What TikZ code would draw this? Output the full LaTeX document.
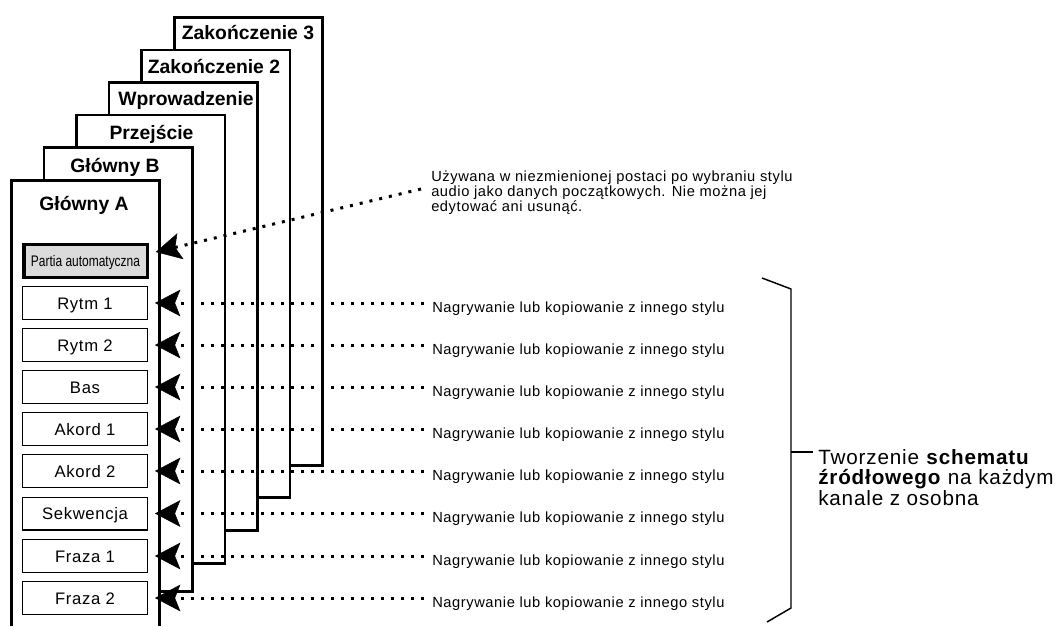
\documentclass[tikz,border=0pt]{standalone}
\usepackage{fontspec}
\setmainfont{Liberation Sans}
\newfontfamily\spacedfont[LetterSpace=4]{Liberation Sans}
\newfontfamily\narrowfont[FakeStretch=0.78]{Liberation Sans}
\usetikzlibrary{arrows.meta}
\tikzset{
  font=\spacedfont,
  % Set arrowhead
  >={Stealth[length=19pt, width=20pt, inset=4pt, line width=0.4pt]},
  % page of the style (stacked)
  panel/.style={draw, line width=2pt, fill=white},
  % page title
  ptitle/.style={inner sep=0pt, text height=10pt, text depth=0pt,
    font=\fontsize{14.5}{16}\selectfont\bfseries},
  % channel box
  chan/.style={draw, line width=1.1pt, fill=white, minimum width=93.4pt,
    minimum height=24.4pt, inner sep=0pt, text height=9pt, text depth=0pt,
    font=\spacedfont\fontsize{12.5}{14}\selectfont},
  % preset audio channel
  autochan/.style={chan, line width=2.6pt, fill=black!14,
    minimum width=92.6pt, text height=8.2pt,
    font=\narrowfont\fontsize{11.5}{13}\selectfont},
  % side note
  note/.style={anchor=west, inner sep=0pt, text height=7.9pt, text depth=0pt,
    font=\spacedfont\fontsize{11}{11.25}\selectfont},
  % dotted arrow into a channel
  feed/.style={->, line width=2.25pt, dash pattern=on 2.25pt off 5.25pt,
    shorten >=5.25pt, shorten <=6pt},
  % bracket
  brace/.style={line width=1.1pt},
}
\begin{document}
\begin{tikzpicture}[x=0.75pt, y=-0.75pt]
  \useasboundingbox (0,0) rectangle (1064,626);

  % stacked pages, back to front
  \draw[panel] (174.3,17.3) rectangle (322.7,465.7);
  \draw[panel] (141.7,49.9) rectangle (290.1,497.7);
  \draw[panel] (109.1,82.5) rectangle (257.5,530.7);
  \draw[panel] (76.5,115.1) rectangle (224.9,563.7);
  \draw[panel] (43.9,147.7) rectangle (192.3,591.7);
  \draw[panel] (11.3,626) -- (11.3,180.3) -- (159.7,180.3) -- (159.7,626);

  \node[ptitle] (tz3) at (248,33) {Zakończenie 3};
  \node[ptitle] (tz2) at (214,66.7) {Zakończenie 2};
  \node[ptitle] (twp) at (186,99) {Wprowadzenie};
  \node[ptitle] (tpr) at (151.5,132.5) {Przejście};
  \node[ptitle] (tgb) at (115,166) {Główny B};
  \node[ptitle] (tga) at (84,204) {Główny A};

  % channels
  \node[autochan] (pa) at (85.5,261) {Partia automatyczna};
  \node[chan] (r1) at (85,303) {Rytm 1};
  \node[chan] (r2) at (85,345) {Rytm 2};
  \node[chan] (bas) at (85,387) {Bas};
  \node[chan] (ak1) at (85,429) {Akord 1};
  \node[chan] (ak2) at (85,471) {Akord 2};
  \node[chan] (sek) at (85,513.5) {Sekwencja};
  \node[chan] (fr1) at (85,556) {Fraza 1};
  \node[chan] (fr2) at (85,598) {Fraza 2};

  % notes
  \node[note, anchor=north west, align=left, text height=, text depth=]
    (opis) at (431,171) {Używana w niezmienionej postaci po wybraniu stylu\\
    audio jako danych początkowych. Nie można jej\\edytować ani usunąć.};
  \node[note] (n1) at (432,307) {Nagrywanie lub kopiowanie z innego stylu};
  \node[note] (n2) at (432,349) {Nagrywanie lub kopiowanie z innego stylu};
  \node[note] (n3) at (432,391) {Nagrywanie lub kopiowanie z innego stylu};
  \node[note] (n4) at (432,433) {Nagrywanie lub kopiowanie z innego stylu};
  \node[note] (n5) at (432,475) {Nagrywanie lub kopiowanie z innego stylu};
  \node[note] (n6) at (432,517.5) {Nagrywanie lub kopiowanie z innego stylu};
  \node[note] (n7) at (432,560) {Nagrywanie lub kopiowanie z innego stylu};
  \node[note] (n8) at (432,602) {Nagrywanie lub kopiowanie z innego stylu};

  % arrows
  \coordinate (ua) at (421,189);
  \draw[feed, shorten <=0pt] (ua) -- ([yshift=5.5pt]pa.east);
  \draw[feed] (n1.west |- r1) -- (r1.east);
  \draw[feed] (n2.west |- r2) -- (r2.east);
  \draw[feed] (n3.west |- bas) -- (bas.east);
  \draw[feed] (n4.west |- ak1) -- (ak1.east);
  \draw[feed] (n5.west |- ak2) -- (ak2.east);
  \draw[feed] (n6.west |- sek) -- (sek.east);
  \draw[feed] (n7.west |- fr1) -- (fr1.east);
  \draw[feed] (n8.west |- fr2) -- (fr2.east);

  % bracket
  \draw[brace] (762,278) -- (791,289) -- (791,608) -- (767,622);
  \draw[brace] (791,452) -- (813,452);
  \node[anchor=north west, align=left, inner sep=0pt,
    font=\spacedfont\fontsize{15.5}{15.5}\selectfont] (tw) at (818,449)
    {Tworzenie \textbf{schematu}\\\textbf{źródłowego} na każdym\\kanale z osobna};
\end{tikzpicture}
\end{document}
